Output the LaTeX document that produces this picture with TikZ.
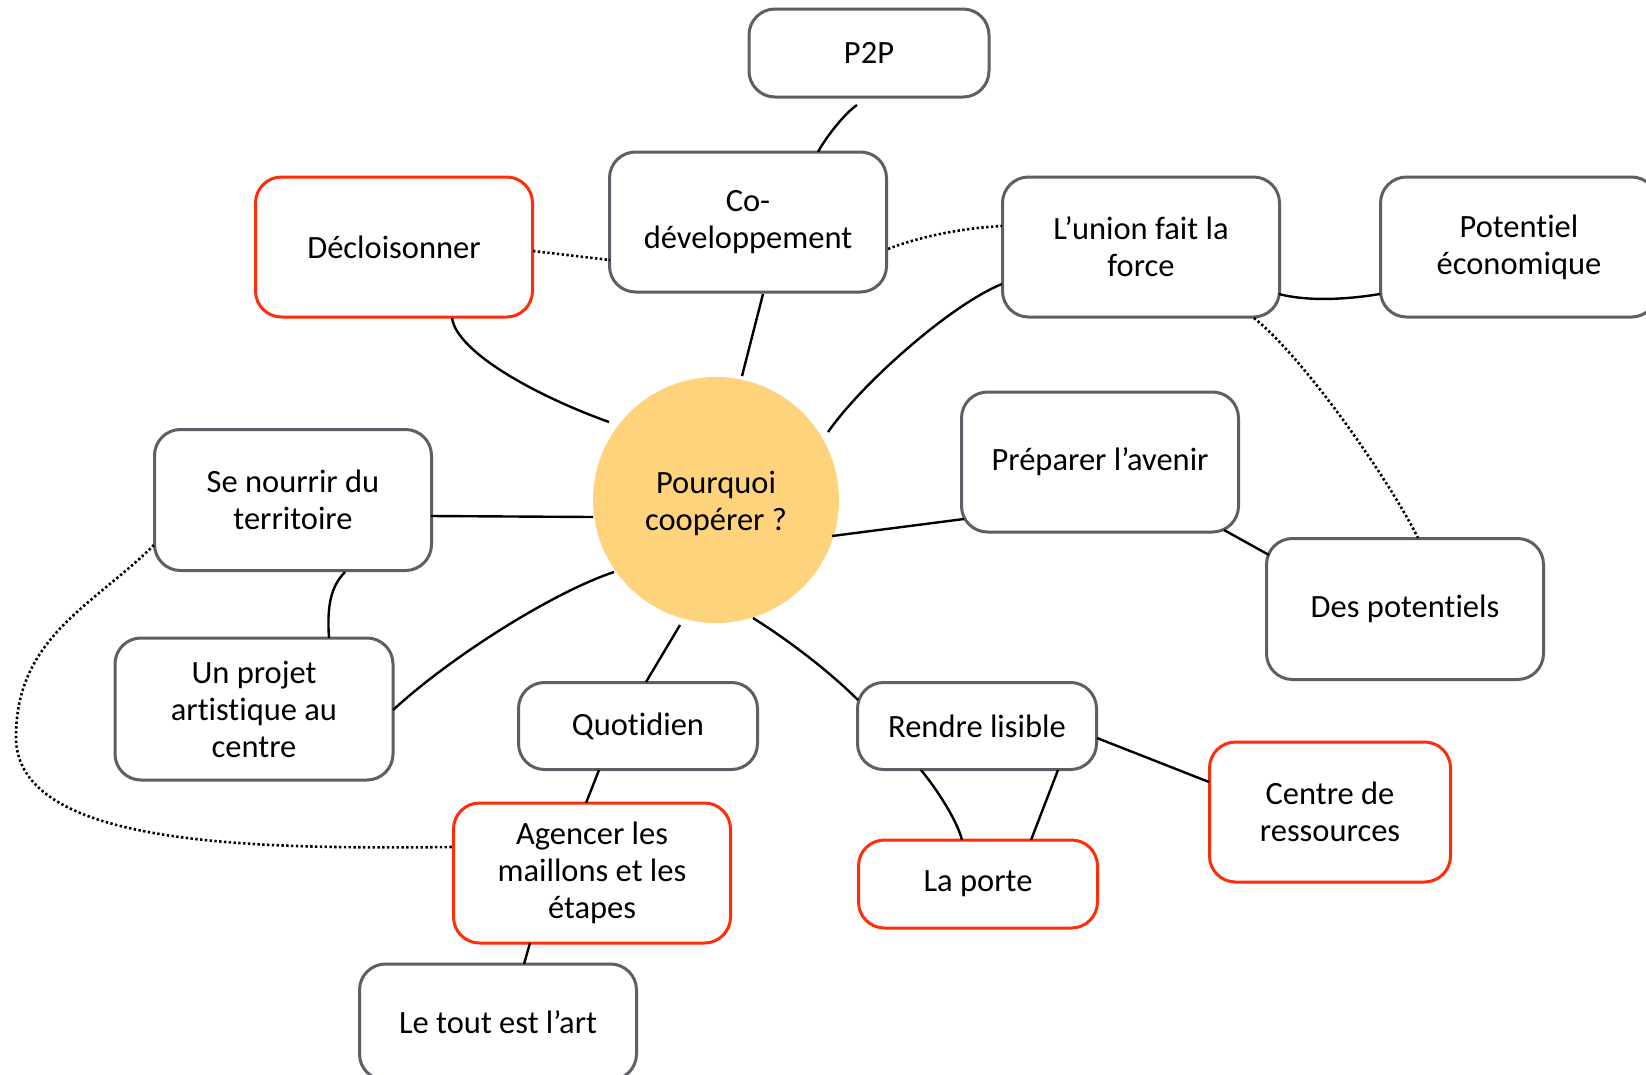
\documentclass[tikz,border=0pt]{standalone}
\usepackage{fontspec}
\setmainfont{Carlito}[Ligatures={NoCommon}]
\usetikzlibrary{calc}
\definecolor{boxgray}{HTML}{5B5F66}
\definecolor{boxred}{HTML}{FF2D0A}
\definecolor{sunfill}{HTML}{FED37B}
\begin{document}
\begin{tikzpicture}[x=1pt,y=-1pt,
  box/.style={draw=boxgray, line width=3pt, rounded corners=26pt, fill=white,
    align=center, inner sep=0pt, font=\fontsize{32.5}{37}\selectfont},
  redbox/.style={box, draw=boxred},
  link/.style={line width=2.4pt, black},
  dotlink/.style={line width=2.6pt, black, dash pattern=on 2.4pt off 2.4pt}]
\useasboundingbox (0,0) rectangle (1646,1074);
\fill[white] (0,0) rectangle (1646,1074);

% nodes
\node[box, minimum width=240pt, minimum height=88pt] (p2p) at (869,53) {P2P};
\node[box, minimum width=277pt, minimum height=140pt] (codev) at (748,222) {Co-\\développement};
\node[redbox, minimum width=277pt, minimum height=140pt] (decl) at (394,247) {Décloisonner};
\node[box, minimum width=277pt, minimum height=140pt] (union) at (1141,247) {L’union fait la\\force};
\node[box, minimum width=277pt, minimum height=140pt] (potent) at (1519,247) {Potentiel\\économique};
\node[circle, fill=sunfill, minimum size=246pt, inner sep=0pt] (center) at (716,500) {};
\node[align=center, font=\fontsize{32.5}{37}\selectfont, inner sep=0pt] (centertext) at (716,503) {Pourquoi\\coopérer ?};
\node[box, minimum width=277pt, minimum height=140pt] (prep) at (1100,462) {Préparer l’avenir};
\node[box, minimum width=277pt, minimum height=141pt] (despot) at (1405,609) {Des potentiels};
\node[box, minimum width=277pt, minimum height=141pt] (nourrir) at (293,500) {Se nourrir du\\territoire};
\node[box, minimum width=278pt, minimum height=142pt] (projet) at (254,709) {Un projet\\artistique au\\centre};
\node[box, minimum width=239pt, minimum height=87pt] (quot) at (638,726) {Quotidien};
\node[box, minimum width=239pt, minimum height=87pt] (rendre) at (977,726) {Rendre lisible};
\node[redbox, minimum width=239pt, minimum height=88pt] (porte) at (978,884) {La porte};
\node[redbox, minimum width=241pt, minimum height=140pt] (centre) at (1330,812) {Centre de\\ressources};
\node[redbox, minimum width=277pt, minimum height=140pt] (agencer) at (592,873) {Agencer les\\maillons et les\\étapes};
\node[box, minimum width=277pt, minimum height=116pt] (tout) at (498,1022) {Le tout est l’art};
\coordinate (loop) at (16,737);

% connectors
\draw[link] ([shift={(-12,52)}]p2p.center) .. controls +(-12,8) and +(8,-15) .. ([shift={(70,-70)}]codev.center);
\draw[link] ([shift={(15,72)}]codev.center) -- ([shift={(26,-124)}]center.center);
\draw[link] ([shift={(58,71)}]decl.center) .. controls +(5,35) and +(-70,-25) .. ([shift={(-107,-78)}]center.center);
\draw[dotlink] ([shift={(139,4)}]decl.center) -- ([shift={(-138,38)}]codev.center);
\draw[dotlink] ([shift={(140,27)}]codev.center) .. controls +(30,-12) and +(-40,2) .. ([shift={(-139,-21)}]union.center);
\draw[link] ([shift={(-139,37)}]union.center) .. controls +(-50,20) and +(35,-50) .. ([shift={(112,-68)}]center.center);
\draw[link] ([shift={(138,47)}]union.center) .. controls +(30,8) and +(-30,5) .. ([shift={(-139,47)}]potent.center);
\draw[dotlink] ([shift={(113,71)}]union.center) .. controls +(50,40) and +(-30,-60) .. ([shift={(13,-71)}]despot.center);
\draw[link] ([shift={(116,36)}]center.center) -- ([shift={(-136,57)}]prep.center);
\draw[link] ([shift={(124,68)}]prep.center) -- ([shift={(-136,-54)}]despot.center);
\draw[link] ([shift={(138,16)}]nourrir.center) -- ([shift={(-123,17)}]center.center);
\draw[link] ([shift={(52,72)}]nourrir.center) .. controls +(-15,15) and +(-2,-30) .. ([shift={(75,-71)}]projet.center);
\draw[link] ([shift={(139,1)}]projet.center) .. controls +(60,-55) and +(-60,20) .. ([shift={(-102,72)}]center.center);
\draw[dotlink] ([shift={(-139,45)}]nourrir.center) .. controls +(-60,60) and +(0,-100) .. (loop)
  .. controls +(0,110) and +(-200,2) .. ([shift={(-139,-26)}]agencer.center);
\draw[link] ([shift={(-36,125)}]center.center) -- ([shift={(8,-44)}]quot.center);
\draw[link] ([shift={(-39,44)}]quot.center) -- ([shift={(-6,-70)}]agencer.center);
\draw[link] ([shift={(-62,70)}]agencer.center) -- ([shift={(26,-58)}]tout.center);
\draw[link] ([shift={(37,118)}]center.center) .. controls +(40,25) and +(-25,-25) .. ([shift={(-119,-26)}]rendre.center);
\draw[link] ([shift={(-56,44)}]rendre.center) .. controls +(15,18) and +(-5,-20) .. ([shift={(-16,-44)}]porte.center);
\draw[link] ([shift={(81,44)}]rendre.center) -- ([shift={(53,-44)}]porte.center);
\draw[link] ([shift={(120,12)}]rendre.center) -- ([shift={(-121,-30)}]centre.center);
\end{tikzpicture}
\end{document}
